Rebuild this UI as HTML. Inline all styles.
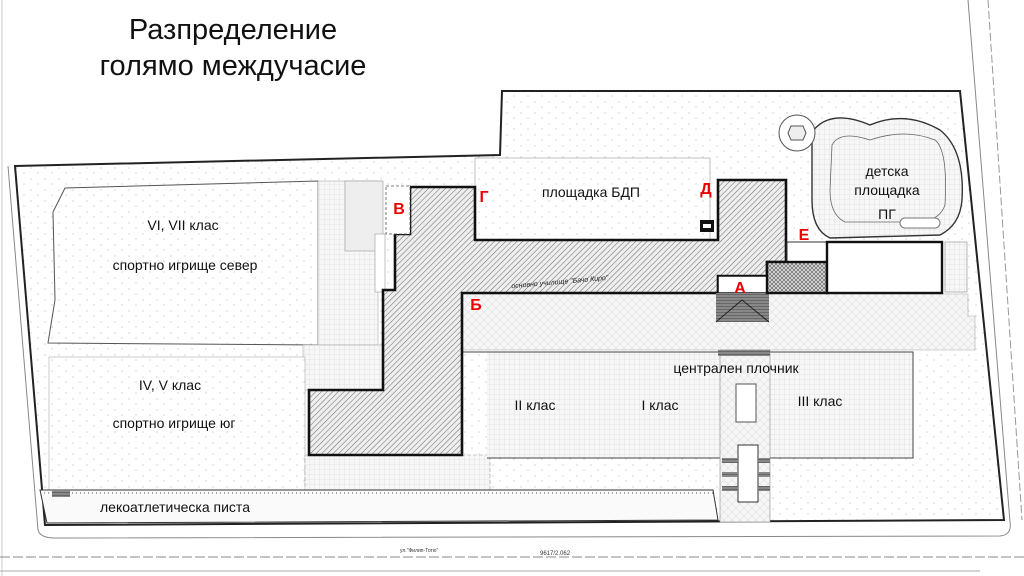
<!DOCTYPE html>
<html><head><meta charset="utf-8"><style>
html,body{margin:0;padding:0;background:#fff;}
svg{display:block;}
text{font-family:"Liberation Sans",sans-serif;}
</style></head><body>
<svg width="1024" height="576" viewBox="0 0 1024 576" xmlns="http://www.w3.org/2000/svg">
<defs>
<pattern id="hatch" width="4" height="4" patternUnits="userSpaceOnUse" patternTransform="rotate(45)">
<rect width="4" height="4" fill="#eee"/><line x1="0" y1="0" x2="0" y2="4" stroke="#666" stroke-width="1"/></pattern>
<pattern id="tile" width="5" height="5" patternUnits="userSpaceOnUse">
<rect width="5" height="5" fill="#f7f7f7"/><path d="M5 0V5H0" fill="none" stroke="#d6d6d6" stroke-width="0.6"/></pattern>
<pattern id="herr" width="8" height="8" patternUnits="userSpaceOnUse">
<rect width="8" height="8" fill="#f6f6f6"/><path d="M0 4L4 0M4 8L8 4M0 4L4 8M4 0L8 4" stroke="#e0e0e0" stroke-width="0.6"/></pattern>
<pattern id="dots" width="14" height="11" patternUnits="userSpaceOnUse">
<rect width="14" height="11" fill="#fff"/><circle cx="3" cy="3" r="0.6" fill="#bbb"/><circle cx="10" cy="8" r="0.6" fill="#bbb"/></pattern>
<pattern id="cross" width="4" height="4" patternUnits="userSpaceOnUse">
<rect width="4" height="4" fill="#ddd"/><path d="M0 0L4 4M4 0L0 4" stroke="#666" stroke-width="0.7"/></pattern>
<pattern id="stair" width="4" height="3" patternUnits="userSpaceOnUse"><rect width="4" height="3" fill="#888"/><line x1="0" y1="0" x2="4" y2="0" stroke="#444"/></pattern>
</defs>
<rect width="1024" height="576" fill="#fff"/>
<line x1="2" y1="0" x2="2" y2="576" stroke="#ccc"/>
<!-- title -->
<text x="233" y="39" font-size="29" text-anchor="middle" fill="#111">Разпределение</text>
<text x="233" y="75" font-size="29" text-anchor="middle" fill="#111">голямо междучасие</text>

<!-- site -->
<path d="M15 166 L500 155 L502 91 L960 91 L1004 520 L45 525 Z" fill="url(#dots)" stroke="#222" stroke-width="2"/>
<path d="M8 166 L38 530 Q40 538 55 538 L1000 536 Q1012 535 1010 522 L968 0" fill="none" stroke="#888" stroke-width="1"/>
<line x1="988" y1="0" x2="1022" y2="520" stroke="#999" stroke-dasharray="8 3"/>
<line x1="0" y1="557" x2="1024" y2="557" stroke="#888" stroke-dasharray="10 3"/>
<line x1="0" y1="571" x2="980" y2="571" stroke="#aaa"/>
<text x="540" y="555" font-size="6" fill="#333">9617/2.062</text>
<text x="400" y="552" font-size="5" fill="#333">ул."Филип-Тотю"</text>

<!-- north field -->
<path d="M65 188 L318 181 L318 345 L48 343 L55 300 L53 212 Z" fill="url(#dots)" stroke="#555" stroke-width="1"/>
<rect x="318" y="181" width="60" height="164" fill="url(#tile)" stroke="#aaa" stroke-width="0.6"/>
<rect x="345" y="181" width="38" height="70" fill="#eee" stroke="#999" stroke-width="0.6"/>
<rect x="375" y="234" width="10" height="58" fill="#fff" stroke="#999" stroke-width="0.6"/>
<rect x="303" y="345" width="80" height="45" fill="url(#tile)" stroke="#aaa" stroke-width="0.6"/>
<!-- south field -->
<rect x="49" y="357" width="256" height="133" fill="url(#dots)" stroke="#aaa" stroke-width="0.6"/>
<!-- strip under building -->
<rect x="305" y="455" width="185" height="35" fill="url(#tile)" stroke="#999" stroke-width="0.6" stroke-dasharray="4 2"/>
<!-- track -->
<path d="M40 490 L713 490 L718 520 L47 523 Z" fill="#fafafa" stroke="#333" stroke-width="1"/>
<line x1="40" y1="493" x2="713" y2="493" stroke="#555" stroke-dasharray="1 3"/>
<rect x="52" y="490" width="18" height="7" fill="url(#stair)"/>

<!-- BDP area -->
<rect x="475" y="158" width="235" height="82" fill="url(#dots)" stroke="#999" stroke-width="0.6"/>
<!-- playground -->
<path d="M812 132 Q830 108 870 125 Q905 110 940 130 Q965 150 962 200 Q960 225 940 235 L830 238 Q812 230 812 200 Z" fill="url(#tile)" stroke="#333" stroke-width="1.4"/>
<path d="M832 145 Q840 130 870 140 Q905 128 935 140 Q948 150 945 205 Q940 220 920 222 L845 222 Q830 215 830 190 Z" fill="url(#tile)" stroke="#666" stroke-width="0.8"/>
<circle cx="797" cy="133" r="18" fill="#fff" stroke="#555"/>
<polygon points="791,126 803,126 806,133 803,140 791,140 788,133" fill="#eee" stroke="#555"/>
<rect x="900" y="218" width="40" height="10" rx="5" fill="#fff" stroke="#777"/>

<!-- yards -->
<path d="M462 294 L968 294 L968 316 L975 316 L975 350 L462 350 Z" fill="url(#herr)" stroke="#aaa" stroke-width="0.6"/>
<rect x="487" y="352" width="233" height="106" fill="url(#tile)"/>
<rect x="770" y="352" width="143" height="106" fill="url(#tile)"/>
<path d="M460 352 L913 352 L913 458 L770 458 M720 458 L487 458" fill="none" stroke="#444" stroke-width="1"/>
<rect x="720" y="350" width="50" height="172" fill="url(#herr)" stroke="#888" stroke-width="0.6"/>
<rect x="718" y="350" width="52" height="6" fill="url(#stair)"/>
<rect x="736" y="384" width="20" height="38" fill="#fff" stroke="#555"/>
<rect x="738" y="445" width="20" height="57" fill="#fff" stroke="#333"/>
<rect x="722" y="458" width="16" height="5" fill="url(#stair)"/><rect x="758" y="458" width="12" height="5" fill="url(#stair)"/>
<rect x="722" y="472" width="16" height="5" fill="url(#stair)"/><rect x="758" y="472" width="12" height="5" fill="url(#stair)"/>
<rect x="722" y="486" width="16" height="5" fill="url(#stair)"/><rect x="758" y="486" width="12" height="5" fill="url(#stair)"/>
<rect x="945" y="242" width="22" height="50" fill="url(#tile)" stroke="#888" stroke-width="0.6"/>

<!-- main building -->
<path d="M410 187 L475 187 L475 240 L718 240 L718 180 L786 180 L786 262 L767 262 L767 276 L718 276 L718 293 L462 293 L462 455 L309 455 L309 390 L383 390 L383 290 L395 290 L395 234 L410 234 Z" fill="url(#hatch)" stroke="#111" stroke-width="2.6"/>
<rect x="386" y="186" width="24" height="48" fill="#fff" stroke="#555" stroke-width="0.8" stroke-dasharray="3 2"/>
<rect x="700" y="220" width="14" height="12" fill="#111"/><rect x="703" y="224" width="8" height="4" fill="#fff"/>
<rect x="718" y="276" width="49" height="17" fill="#fff" stroke="#111" stroke-width="1.5"/>
<rect x="716" y="293" width="53" height="29" fill="url(#stair)"/>
<path d="M716 322 L742 300 L769 322" fill="none" stroke="#222" stroke-width="1"/>
<rect x="787" y="242" width="40" height="20" fill="#fff" stroke="#333" stroke-width="1"/>
<rect x="767" y="262" width="60" height="31" fill="url(#cross)" stroke="#111" stroke-width="2.4"/>
<rect x="827" y="242" width="115" height="51" fill="#fff" stroke="#111" stroke-width="2.4"/>

<!-- labels -->
<g font-size="14" fill="#111" text-anchor="middle">
<text x="183" y="230">VI, VII клас</text>
<text x="185" y="270">спортно игрище север</text>
<text x="170" y="390">IV, V клас</text>
<text x="174" y="428">спортно игрище юг</text>
<text x="175" y="512">лекоатлетическа писта</text>
<text x="591" y="197">площадка БДП</text>
<text x="887" y="176">детска</text>
<text x="887" y="195">площадка</text>
<text x="887" y="219">ПГ</text>
<text x="736" y="373">централен плочник</text>
<text x="535" y="410">II клас</text>
<text x="660" y="410">I клас</text>
<text x="820" y="406">III клас</text>
</g>
<text x="560" y="284" font-size="7" font-style="italic" fill="#222" transform="rotate(-5 560 284)" text-anchor="middle">основно училище "Бачо Киро"</text>
<g font-size="16" font-weight="bold" fill="#e00" text-anchor="middle">
<text x="399" y="214">В</text>
<text x="484" y="202">Г</text>
<text x="706" y="194">Д</text>
<text x="804" y="240">Е</text>
<text x="740" y="293">А</text>
<text x="476" y="310">Б</text>
</g>
</svg>
</body></html>
